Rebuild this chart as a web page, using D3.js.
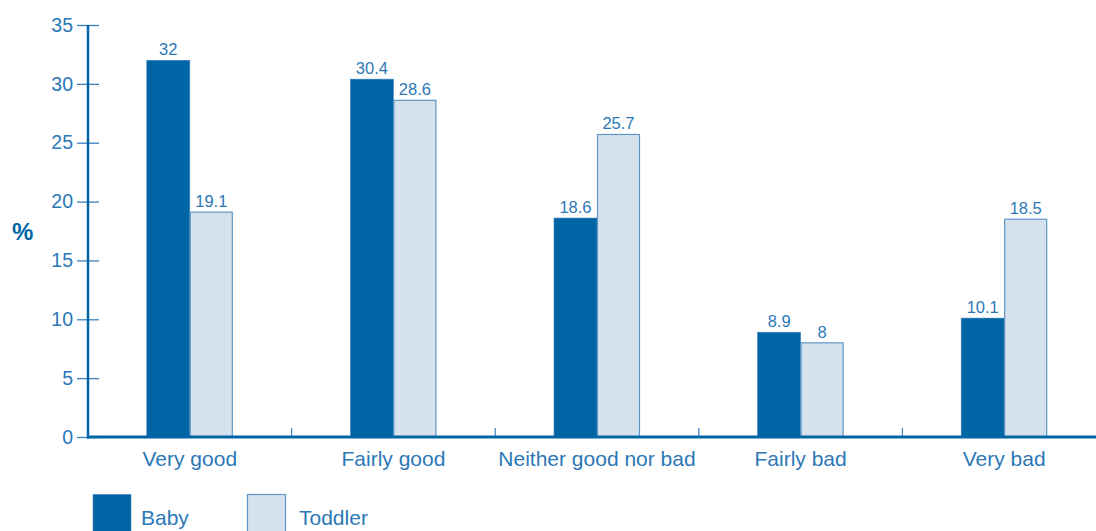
<!DOCTYPE html>
<html><head><meta charset="utf-8">
<script src="https://cdn.jsdelivr.net/npm/d3@7"></script>
<style>body{margin:0;background:#fff;}svg{display:block;font-family:"Liberation Sans",Arial,sans-serif;}</style>
</head><body>
<svg id="c" width="1096" height="531"></svg>
<script>
const categories = ["Very good","Fairly good","Neither good nor bad","Fairly bad","Very bad"];
const series = ["Baby","Toddler"];
const baby = [32, 30.4, 18.6, 8.9, 10.1];
const toddler = [19.1, 28.6, 25.7, 8, 18.5];
const yTicks = [0,5,10,15,20,25,30,35];

const svg = d3.select("#c");
const x0 = 88, yBase = 437, yTop = 25;
const bandW = 203.6;
const x = d3.scaleBand().domain(categories).range([x0, x0 + bandW*5]).paddingInner(0).paddingOuter(0);
const y = d3.scaleLinear().domain([0,35]).range([yBase, yTop]);
const xs = d3.scaleBand().domain(series).range([0, 86]);
const barOffset = x.bandwidth()/2 - 43;

const dark = "#0065a5", light = "#d6e1ee", lightStroke = "#5e97c6", txt = "#2c78b6";
const vals = {Baby: baby, Toddler: toddler};

// bars
const g = svg.append("g");
categories.forEach((c,i)=>{
  series.forEach(s=>{
    const v = vals[s][i];
    const bx = x(c) + barOffset + xs(s);
    g.append("rect")
      .attr("x", s==="Baby" ? bx : bx+0.5)
      .attr("y", y(v))
      .attr("width", s==="Baby" ? xs.bandwidth() : xs.bandwidth()-1)
      .attr("height", yBase - y(v))
      .attr("fill", s==="Baby" ? dark : light)
      .attr("stroke", s==="Baby" ? "#3f82bb" : lightStroke)
      .attr("stroke-width", s==="Baby" ? 0.6 : 1.2);
    g.append("text")
      .attr("x", bx + xs.bandwidth()/2)
      .attr("y", y(v) - 5)
      .attr("text-anchor","middle")
      .attr("font-size", 16.5)
      .attr("fill", txt)
      .text(v);
  });
});

// y axis
const yAxis = d3.axisLeft(y).tickValues(yTicks).tickSize(0).tickPadding(15);
const ya = svg.append("g").attr("transform",`translate(${x0},0)`).call(yAxis);
ya.select(".domain").remove();
ya.selectAll("text").attr("font-size",19.5).attr("fill",txt).attr("font-family","Liberation Sans, Arial, sans-serif");
ya.selectAll(".tick").append("line").attr("x1",-11).attr("x2",11).attr("stroke","#3a80bd").attr("stroke-width",1.3);
svg.append("line").attr("x1",x0).attr("x2",x0).attr("y1",yTop).attr("y2",yBase+1.5).attr("stroke",dark).attr("stroke-width",2.5);

// x axis
const xAxis = d3.axisBottom(x).tickSize(0).tickPadding(14);
const xa = svg.append("g").attr("transform",`translate(0,${yBase})`).call(xAxis);
xa.select(".domain").remove();
xa.selectAll("text").attr("font-size",21).attr("fill",txt).attr("font-family","Liberation Sans, Arial, sans-serif");
categories.slice(1).forEach(c=>{
  svg.append("line").attr("x1",x(c)).attr("x2",x(c)).attr("y1",yBase-9).attr("y2",yBase).attr("stroke","#3a80bd").attr("stroke-width",1.2);
});
svg.append("line").attr("x1",x0-1).attr("x2",1096).attr("y1",yBase).attr("y2",yBase).attr("stroke",dark).attr("stroke-width",3);

// y label
svg.append("text").attr("x",12).attr("y",240).attr("font-size",24).attr("font-weight","bold").attr("fill",dark).text("%");

// legend
const legX = [93, 247];
series.forEach((s,i)=>{
  svg.append("rect").attr("x",legX[i]+ (i?0.5:0)).attr("y",494.5).attr("width",38).attr("height",40)
    .attr("fill", i?light:dark).attr("stroke", i?lightStroke:"#3f82bb").attr("stroke-width", i?1.2:0.6);
  svg.append("text").attr("x",legX[i]+48 + (i?4:0)).attr("y",525).attr("font-size",21).attr("fill",txt).text(s);
});
</script>
</body></html>
